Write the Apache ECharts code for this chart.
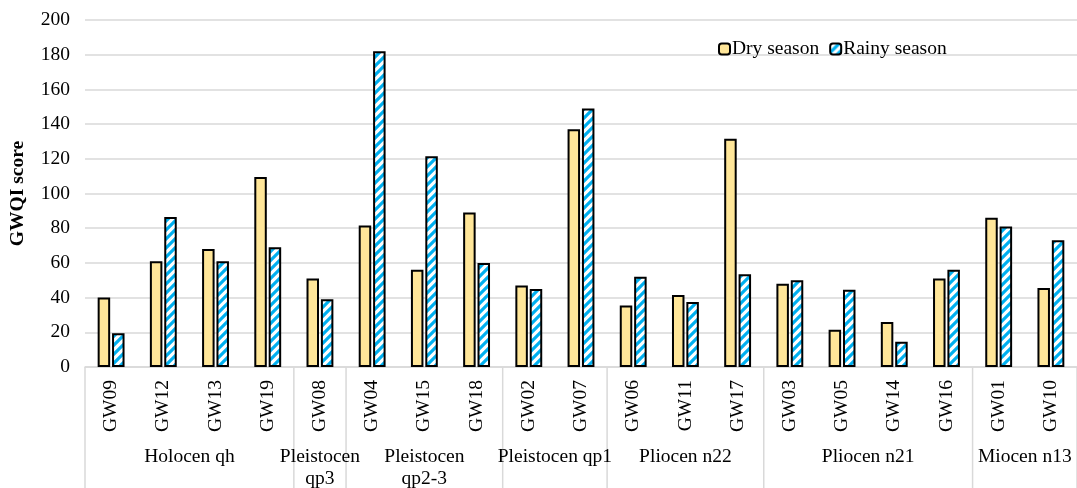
<!DOCTYPE html>
<html>
<head>
<meta charset="utf-8">
<script src="https://cdn.jsdelivr.net/npm/echarts@6/dist/echarts.min.js"></script>
<style>
html,body{margin:0;padding:0;background:#fff;}
#chart{width:1077px;height:488px;}
</style>
</head>
<body>
<div id="chart"></div>
<script>
const categories = ['GW09','GW12','GW13','GW19','GW08','GW04','GW15','GW18','GW02','GW07','GW06','GW11','GW17','GW03','GW05','GW14','GW16','GW01','GW10'];
const drySeason = [40, 61, 68, 109.5, 51, 81.5, 56, 89, 47, 137, 35.5, 41.5, 131.5, 48, 21.5, 26, 51, 86, 45.5];
const rainySeason = [19.5, 86.5, 61, 69, 39, 182, 121.5, 60, 45, 149, 52, 37.5, 53.5, 50, 44.5, 14.5, 56, 81, 73];
const groupNames = ['Holocen qh', 'Pleistocen\nqp3', 'Pleistocen\nqp2-3', 'Pleistocen qp1', 'Pliocen n22', 'Pliocen n21', 'Miocen n13'];
const groupSizes = [4, 1, 3, 2, 3, 4, 2];

const FONT = '"Liberation Serif", "Times New Roman", serif';
const FS = 19.5;

function makeStripes() {
  const c = document.createElement('canvas');
  const s = 9;
  c.width = s; c.height = s;
  const ctx = c.getContext('2d');
  ctx.fillStyle = '#ffffff';
  ctx.fillRect(0, 0, s, s);
  ctx.strokeStyle = '#00B0F0';
  ctx.lineWidth = 3.2;
  ctx.beginPath();
  ctx.moveTo(0, s); ctx.lineTo(s, 0);
  ctx.moveTo(-s/2, s/2); ctx.lineTo(s/2, -s/2);
  ctx.moveTo(s/2, s*1.5); ctx.lineTo(s*1.5, s/2);
  ctx.stroke();
  return c;
}
const stripe = makeStripes();

const chart = echarts.init(document.getElementById('chart'));
const option = {
  animation: false,
  backgroundColor: '#fff',
  textStyle: { fontFamily: FONT },
  grid: { left: 84, right: 0, top: 20, bottom: 121, containLabel: false },
  legend: {
    left: 713, top: 34,
    itemWidth: 11, itemHeight: 11, itemGap: 10,
    textStyle: { fontFamily: FONT, fontSize: FS, color: '#000', padding: [0,0,0,-3] },
    data: ['Dry season', 'Rainy season']
  },
  xAxis: {
    type: 'category',
    data: categories,
    axisLine: { lineStyle: { color: '#d9d9d9', width: 1.5 } },
    axisTick: { show: false },
    axisLabel: { rotate: 90, fontFamily: FONT, fontSize: FS, color: '#000', margin: 13, interval: 0 }
  },
  yAxis: {
    type: 'value',
    min: 0, max: 200, interval: 20,
    name: 'GWQI score',
    nameLocation: 'middle',
    nameGap: 57,
    nameTextStyle: { fontFamily: FONT, fontSize: FS, fontWeight: 'bold', color: '#000' },
    axisLine: { show: false },
    axisTick: { show: false },
    axisLabel: { fontFamily: FONT, fontSize: FS, color: '#000', margin: 15 },
    splitLine: { lineStyle: { color: '#d9d9d9', width: 1.5 } }
  },
  series: [
    {
      name: 'Dry season', type: 'bar', data: drySeason,
      barWidth: 12.5, barGap: '15%',
      itemStyle: { color: '#FFE699', borderColor: '#000', borderWidth: 2 }
    },
    {
      name: 'Rainy season', type: 'bar', data: rainySeason,
      barWidth: 12.5,
      itemStyle: { color: { image: stripe, repeat: 'repeat' }, borderColor: '#000', borderWidth: 2 }
    }
  ]
};
chart.setOption(option);

function drawGroups() {
  const c0 = chart.convertToPixel({ xAxisIndex: 0 }, categories[0]);
  const c1 = chart.convertToPixel({ xAxisIndex: 0 }, categories[1]);
  const band = c1 - c0;
  const left = c0 - band / 2;
  const y0 = chart.convertToPixel({ yAxisIndex: 0 }, 0);
  const bottom = 488;
  const elements = [];
  let idx = 0;
  elements.push({ type: 'line', shape: { x1: left, y1: y0, x2: left, y2: bottom }, style: { stroke: '#d9d9d9', lineWidth: 1.5 }, silent: true });
  groupSizes.forEach((n, g) => {
    const start = left + idx * band;
    const end = left + (idx + n) * band;
    elements.push({ type: 'line', shape: { x1: end, y1: y0, x2: end, y2: bottom }, style: { stroke: '#d9d9d9', lineWidth: 1.5 }, silent: true });
    elements.push({
      type: 'text', x: (start + end) / 2, y: y0 + 79,
      style: { text: groupNames[g], font: FS + 'px ' + FONT, fill: '#000', align: 'center', verticalAlign: 'top', lineHeight: 22 },
      silent: true
    });
    idx += n;
  });
  chart.setOption({ graphic: { elements } });
}
drawGroups();
</script>
</body>
</html>
